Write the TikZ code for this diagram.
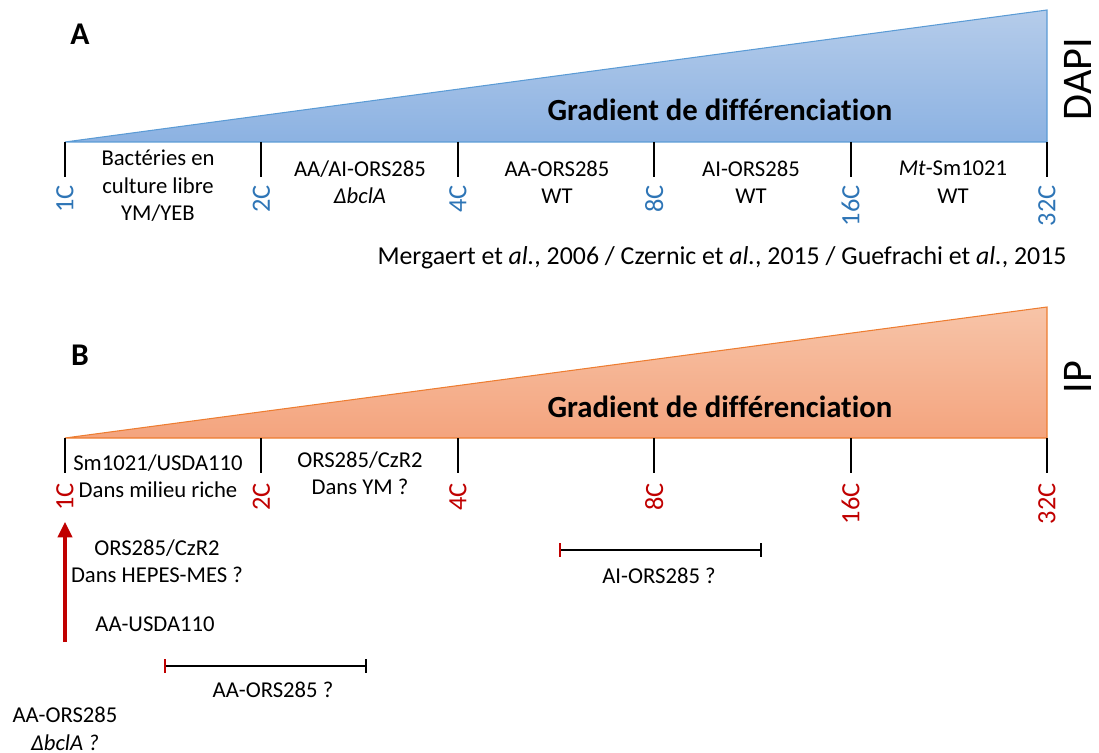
\documentclass[tikz,border=0pt]{standalone}
\usepackage{fontspec}
\setmainfont{Carlito}[Ligatures=NoCommon]
\usetikzlibrary{arrows.meta}
\definecolor{dapiline}{HTML}{5B9BD5}
\definecolor{dapitop}{HTML}{B5CCEA}
\definecolor{dapibottom}{HTML}{8CB2E2}
\definecolor{dapitext}{HTML}{2E75B6}
\definecolor{ipline}{HTML}{ED7D31}
\definecolor{iptop}{HTML}{F7C4A8}
\definecolor{ipbottom}{HTML}{F4A47E}
\definecolor{ipred}{HTML}{C00000}

\begin{document}
\begin{tikzpicture}[
  x=0.02cm,
  y=-0.02cm,
  every node/.style={font=\fontsize{12.9}{15.6}\selectfont, align=center, inner sep=0pt},
  panel/.style={font=\fontsize{18}{21}\selectfont\bfseries},
  gradtext/.style={font=\fontsize{17.5}{21}\selectfont\bfseries},
  stain/.style={font=\fontsize{24}{28}\selectfont, rotate=90},
  ploidy/.style={font=\fontsize{15}{18}\selectfont, rotate=90, anchor=east},
  tick/.style={black, line width=1.2pt},
  rangebar/.style={black, line width=1.2pt},
  moveup/.style={ipred, line width=2.4pt, -{Triangle[length=9pt, width=8pt]}}
]
  \useasboundingbox (0,0) rectangle (1099,753);

  %% ---- A : DAPI -------------------------------------------------------
  \node[panel] (lettera) at (80,34) {A};
  \shadedraw[top color=dapitop, bottom color=dapibottom, draw=dapiline, line width=0.6pt]
    (65,142) -- (1047,10) -- (1047,142) -- cycle;
  \node[gradtext] (grada) at (720,110) {Gradient de différenciation};
  \node[stain] (dapi) at (1078,79) {DAPI};

  \foreach \c [count=\i] in {1C,2C,4C,8C,16C,32C} {
    \coordinate (ta\i) at ({65+196.4*(\i-1)},142);
    \draw[tick] (ta\i) -- ++(0,35);
    \node[ploidy, dapitext] (ca\i) at ({65+196.4*(\i-1)},185) {\c};
  }

  \node (freea) at (158,186) {Bactéries en\\culture libre\\YM/YEB};
  \node (bcla) at (360,182) {AA/AI-ORS285\\\textit{ΔbclA}};
  \node (aaa) at (557,182) {AA-ORS285\\WT};
  \node (aia) at (751,182) {AI-ORS285\\WT};
  \node (mta) at (953,182) {\textit{Mt}-Sm1021\\WT};

  \node[font=\fontsize{14.7}{18}\selectfont] (refs) at (722,258)
    {Mergaert et \textit{al.}, 2006 / Czernic et \textit{al.}, 2015 / Guefrachi et \textit{al.}, 2015};

  %% ---- B : IP ---------------------------------------------------------
  \node[panel] (letterb) at (80,355) {B};
  \shadedraw[top color=iptop, bottom color=ipbottom, draw=ipline, line width=0.6pt]
    (65,438) -- (1047,307) -- (1047,438) -- cycle;
  \node[gradtext] (gradb) at (720,407) {Gradient de différenciation};
  \node[stain] (ip) at (1078,377) {IP};

  \foreach \c [count=\i] in {1C,2C,4C,8C,16C,32C} {
    \coordinate (tb\i) at ({65+196.4*(\i-1)},438);
    \draw[tick] (tb\i) -- ++(0,35);
    \node[ploidy, ipred] (cb\i) at ({65+196.4*(\i-1)},483) {\c};
  }

  \node (richb) at (158,476) {Sm1021/USDA110\\Dans milieu riche};
  \node (ymb) at (360,473) {ORS285/CzR2\\Dans YM ?};

  % fleche vers 1C
  \coordinate (arrowfoot) at (65,642);
  \draw[moveup, shorten >=6pt] (arrowfoot) -- (cb1.west);
  \node (hepes) at (157,561) {ORS285/CzR2\\Dans HEPES-MES ?};
  \node (usda) at (155,624) {AA-USDA110};
  \node (bclb) at (65,729) {AA-ORS285\\\textit{ΔbclA ?}};

  % intervalles
  \coordinate (aaleft) at (165,666);
  \coordinate (aaright) at (366,666);
  \draw[rangebar] (aaleft) -- (aaright);
  \draw[ipred, line width=1.2pt] ([yshift=0.14cm]aaleft) -- ([yshift=-0.14cm]aaleft);
  \draw[tick] ([yshift=0.14cm]aaright) -- ([yshift=-0.14cm]aaright);
  \node (aab) at (273,690) {AA-ORS285 ?};

  \coordinate (aileft) at (560,550);
  \coordinate (airight) at (761,550);
  \draw[rangebar] (aileft) -- (airight);
  \draw[ipred, line width=1.2pt] ([yshift=0.14cm]aileft) -- ([yshift=-0.14cm]aileft);
  \draw[tick] ([yshift=0.14cm]airight) -- ([yshift=-0.14cm]airight);
  \node (aib) at (659,576) {AI-ORS285 ?};

\end{tikzpicture}
\end{document}
